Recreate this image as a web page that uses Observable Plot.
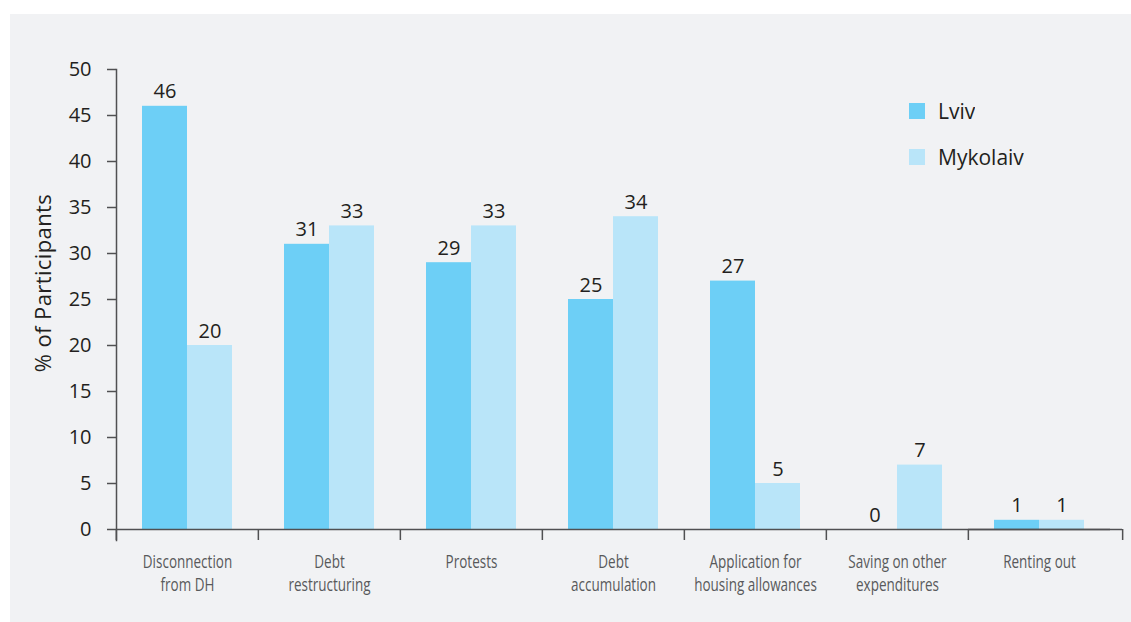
<!DOCTYPE html>
<html>
<head>
<meta charset="utf-8">
<script src="https://cdn.jsdelivr.net/npm/d3@7"></script>
<script src="https://cdn.jsdelivr.net/npm/@observablehq/plot@0.6"></script>
<style>
  html, body { margin: 0; padding: 0; background: #ffffff; width: 1131px; height: 622px; overflow: hidden; }
  #panel { position: absolute; left: 10px; top: 14px; width: 1121px; height: 608px; background: #f1f2f4; }
  #chart { position: absolute; left: 0; top: 0; }
  #ytitle { position: absolute; left: 42px; top: 283px; transform: translate(-50%, -50%) rotate(-90deg);
            font: 22px "Open Sans", sans-serif; letter-spacing: 0.4px; color: #231f20; white-space: nowrap; }
  #legend { position: absolute; left: 909px; top: 88px; width: 200px; }
  #legend .lg-swatch { height: 46px; padding-bottom: 0 !important; margin: 0 !important; }
  #legend .lg-swatch svg { margin-right: 13px !important; }
</style>
</head>
<body>
<div id="panel"></div>
<div id="chart"></div>
<div id="ytitle">% of Participants</div>
<div id="legend"></div>
<script>
const categories = ["Disconnection from DH", "Debt restructuring", "Protests", "Debt accumulation",
  "Application for housing allowances", "Saving on other expenditures", "Renting out"];
const categoryLabels = ["Disconnection\nfrom DH", "Debt\nrestructuring", "Protests", "Debt\naccumulation",
  "Application for\nhousing allowances", "Saving on other\nexpenditures", "Renting out"];
const cities = ["Lviv", "Mykolaiv"];
const lviv = [46, 31, 29, 25, 27, 0, 1];
const mykolaiv = [20, 33, 33, 34, 5, 7, 1];
const yTicks = [0, 5, 10, 15, 20, 25, 30, 35, 40, 45, 50];
const colors = ["#6dcff6", "#b9e5f9"];

const rows = categories.flatMap((c, i) => [
  {category: c, city: cities[0], value: lviv[i]},
  {category: c, city: cities[1], value: mykolaiv[i]}
]);

const W = 1131, H = 622, mL = 115, mR = 20, mT = 69, mB = 93;
const halfStep = (W - mL - mR) / categories.length / 2;
const axisColor = "#505052";

const chart = Plot.plot({
  width: W, height: H,
  marginLeft: mL, marginRight: mR, marginTop: mT, marginBottom: mB,
  style: {background: "transparent", fontFamily: '"Open Sans", sans-serif', color: "#231f20", overflow: "visible"},
  fx: {domain: categories, paddingInner: 0, paddingOuter: 0, label: null},
  x: {domain: cities, paddingInner: 0, paddingOuter: 0.5625, axis: null},
  y: {domain: [0, 50], label: null},
  color: {domain: cities, range: colors},
  marks: [
    Plot.barY(rows, {fx: "category", x: "city", y: "value", fill: "city"}),
    Plot.text(rows, {fx: "category", x: "city", y: "value", text: d => String(d.value),
      dy: -8, lineAnchor: "bottom", fontSize: 20, fill: "#231f20"}),
    Plot.ruleY([0], {stroke: axisColor, strokeWidth: 1.5}),
    Plot.ruleY([0], {stroke: axisColor, strokeWidth: 1.5, facetAnchor: "right", insetRight: -12}),
    Plot.frame({anchor: "left", facetAnchor: "left", insetBottom: -11, stroke: axisColor, strokeWidth: 1.5}),
    Plot.axisY({ticks: yTicks, tickSize: 9, tickPadding: 16, fontSize: 20, label: null,
      stroke: axisColor, strokeWidth: 1.5, fill: "#231f20"}),
    Plot.axisFx({anchor: "bottom", tickSize: 11, text: null, label: null, dx: -halfStep,
      stroke: axisColor, strokeWidth: 1.5}),
    Plot.axisFx({anchor: "bottom", ticks: [categories[categories.length - 1]], tickSize: 11, text: null, label: null,
      dx: halfStep + 12, stroke: axisColor, strokeWidth: 1.5}),
    Plot.axisFx({anchor: "bottom", tickSize: 0, tickPadding: 21, label: null,
      tickFormat: d => categoryLabels[categories.indexOf(d)],
      fontSize: 19, lineHeight: 1.26, fill: "#58595b"})
  ]
});
document.getElementById("chart").appendChild(chart);

// condense the category labels horizontally (the reference uses a condensed face)
const firstLines = new Set(categoryLabels.map(s => s.split("\n")[0]));
d3.select(chart).selectAll("text").each(function () {
  const ts = this.querySelector("tspan");
  const first = ts ? ts.textContent : this.textContent;
  if (!firstLines.has(first)) return;
  const t = this.getAttribute("transform");
  if (t) {
    this.setAttribute("transform", t + " scale(0.71,1)");
  } else {
    const x = +(this.getAttribute("x") || 0), y = +(this.getAttribute("y") || 0);
    this.setAttribute("transform", `translate(${x},${y}) scale(0.71,1) translate(${-x},${-y})`);
  }
});

const legend = Plot.legend({
  color: {domain: cities, range: colors},
  legend: "swatches", columns: 1, swatchSize: 16, className: "lg",
  style: {fontSize: "21px", fontFamily: '"Open Sans", sans-serif', color: "#231f20"}
});
document.getElementById("legend").appendChild(legend);
</script>
</body>
</html>
